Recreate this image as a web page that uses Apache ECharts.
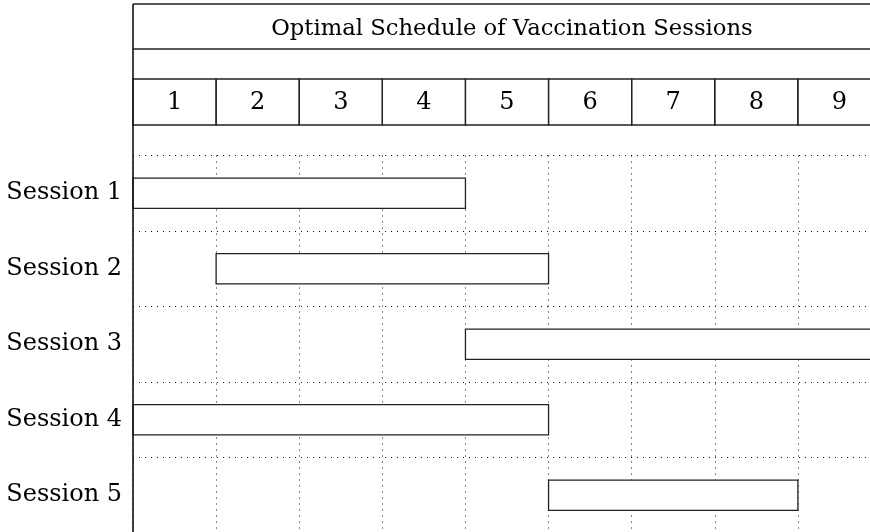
<!DOCTYPE html>
<html>
<head>
<meta charset="utf-8">
<script src="https://cdn.jsdelivr.net/npm/echarts@6/dist/echarts.min.js"></script>
<style>
html,body{margin:0;padding:0;background:#fff;}
#chart{width:870px;height:532px;}
</style>
</head>
<body>
<div id="chart"></div>
<script>
// ---- data ----
var titleText = 'Optimal Schedule of Vaccination Sessions';
var sessions = ['Session 1', 'Session 2', 'Session 3', 'Session 4', 'Session 5'];
var startDay = [1, 2, 5, 1, 6];
var endDay = [4, 5, 9, 5, 8];
var dayLabels = ['1', '2', '3', '4', '5', '6', '7', '8', '9'];

var FONT = '"DejaVu Serif", "Liberation Serif", serif';
var chart = echarts.init(document.getElementById('chart'));

var barData = sessions.map(function (s, i) {
  return [startDay[i] - 1, endDay[i], i];
});
var dayData = dayLabels.map(function (d, i) {
  return [i, i + 1, d];
});

var option = {
  backgroundColor: '#fff',
  animation: false,
  title: {
    text: titleText,
    left: 507,
    top: 13,
    textAlign: 'center',
    textStyle: { fontFamily: FONT, fontSize: 22.7, fontWeight: 'normal', color: '#000' }
  },
  grid: [
    { left: 133, width: 748, top: 155.5, height: 377.5, outerBoundsMode: 'none', containLabel: false },
    { left: 133, width: 748, top: 79, height: 46, outerBoundsMode: 'none', containLabel: false }
  ],
  xAxis: [
    {
      type: 'value', gridIndex: 0, min: 0, max: 9, interval: 1,
      axisLine: { show: false }, axisTick: { show: false }, axisLabel: { show: false },
      splitLine: { show: true, lineStyle: { color: '#111', width: 1, type: [1, 5] } }
    },
    {
      type: 'value', gridIndex: 1, min: 0, max: 9, interval: 1, show: false
    }
  ],
  yAxis: [
    {
      type: 'category', gridIndex: 0, data: sessions, inverse: true,
      axisLine: { show: false }, axisTick: { show: false },
      axisLabel: { fontFamily: FONT, fontSize: 24, color: '#000', margin: 11 },
      splitLine: { show: true, lineStyle: { color: '#111', width: 1, type: [1, 5] } }
    },
    { type: 'value', gridIndex: 1, min: 0, max: 1, show: false }
  ],
  graphic: [
    { type: 'line', shape: { x1: 133, y1: 4, x2: 133, y2: 532 }, style: { stroke: '#111', lineWidth: 1.6 }, z: 10 },
    { type: 'line', shape: { x1: 133, y1: 4, x2: 870, y2: 4 }, style: { stroke: '#222', lineWidth: 1.3 }, z: 10 },
    { type: 'line', shape: { x1: 133, y1: 49, x2: 870, y2: 49 }, style: { stroke: '#222', lineWidth: 1.3 }, z: 10 }
  ],
  series: [
    {
      type: 'custom', xAxisIndex: 0, yAxisIndex: 0,
      data: barData,
      encode: { x: [0, 1], y: 2 },
      clip: false,
      renderItem: function (params, api) {
        var p0 = api.coord([api.value(0), api.value(2)]);
        var p1 = api.coord([api.value(1), api.value(2)]);
        var h = api.size([0, 1])[1] * 0.4;
        return {
          type: 'rect',
          shape: { x: p0[0], y: p0[1] - h / 2, width: p1[0] - p0[0], height: h },
          style: { fill: '#fff', stroke: '#222', lineWidth: 1.3 }
        };
      }
    },
    {
      type: 'custom', xAxisIndex: 1, yAxisIndex: 1,
      data: dayData,
      encode: { x: [0, 1] },
      renderItem: function (params, api) {
        var cs = params.coordSys;
        var x0 = api.coord([api.value(0), 0])[0];
        var x1 = api.coord([api.value(1), 0])[0];
        return {
          type: 'group',
          children: [
            {
              type: 'rect',
              shape: { x: x0, y: cs.y, width: x1 - x0, height: cs.height },
              style: { fill: 'none', stroke: '#222', lineWidth: 1.3 }
            },
            {
              type: 'text',
              style: {
                x: (x0 + x1) / 2, y: cs.y + cs.height / 2 + 1,
                text: dayLabels[params.dataIndex],
                fontFamily: FONT, fontSize: 24, fill: '#000',
                align: 'center', verticalAlign: 'middle'
              }
            }
          ]
        };
      }
    }
  ]
};
chart.setOption(option);
</script>
</body>
</html>
